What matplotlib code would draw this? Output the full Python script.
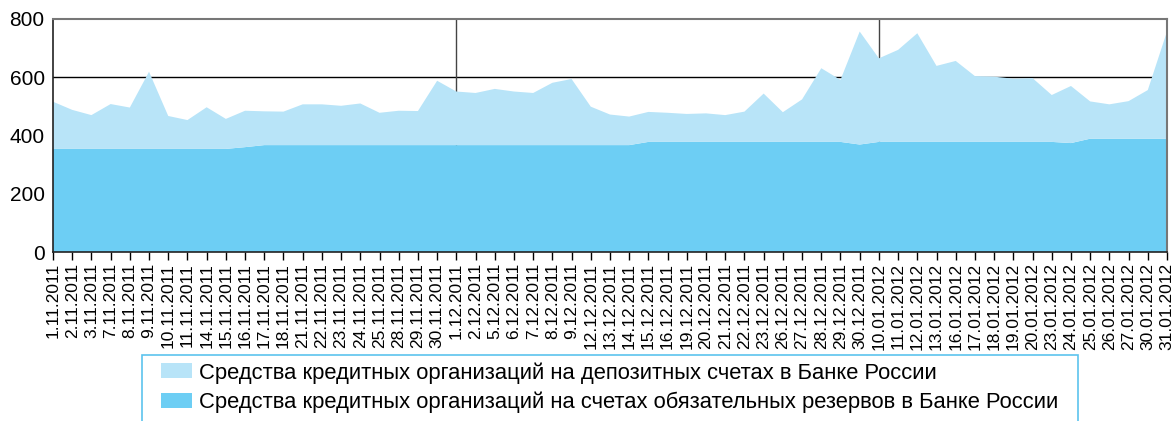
import matplotlib.pyplot as plt
from matplotlib.patches import Rectangle
import numpy as np

plt.rcParams['font.family'] = ['Liberation Sans', 'DejaVu Sans']

dates = ['1.11.2011', '2.11.2011', '3.11.2011', '7.11.2011', '8.11.2011', '9.11.2011',
         '10.11.2011', '11.11.2011', '14.11.2011', '15.11.2011', '16.11.2011', '17.11.2011',
         '18.11.2011', '21.11.2011', '22.11.2011', '23.11.2011', '24.11.2011', '25.11.2011',
         '28.11.2011', '29.11.2011', '30.11.2011',
         '1.12.2011', '2.12.2011', '5.12.2011', '6.12.2011', '7.12.2011', '8.12.2011',
         '9.12.2011', '12.12.2011', '13.12.2011', '14.12.2011', '15.12.2011', '16.12.2011',
         '19.12.2011', '20.12.2011', '21.12.2011', '22.12.2011', '23.12.2011', '26.12.2011',
         '27.12.2011', '28.12.2011', '29.12.2011', '30.12.2011',
         '10.01.2012', '11.01.2012', '12.01.2012', '13.01.2012', '16.01.2012', '17.01.2012',
         '18.01.2012', '19.01.2012', '20.01.2012', '23.01.2012', '24.01.2012', '25.01.2012',
         '26.01.2012', '27.01.2012', '30.01.2012', '31.01.2012']

# обязательные резервы
reserves = [354, 354, 354, 354, 354, 354, 354, 354, 354, 354, 360, 367, 367, 367, 367, 367,
            367, 367, 367, 367, 367,
            367, 367, 367, 367, 367, 367, 367, 367, 367, 367, 378, 378, 378, 378, 378, 378,
            378, 378, 378, 378, 378, 369,
            378, 378, 378, 378, 378, 378, 378, 378, 378, 378, 374, 389, 389, 389, 389, 389]

# депозиты (сверх резервов)
deposits = [162, 134, 116, 154, 142, 265, 113, 99, 143, 103, 125, 116, 115, 140, 140, 135,
            143, 111, 118, 117, 221,
            184, 179, 193, 184, 179, 214, 227, 132, 105, 98, 103, 100, 96, 98, 92, 104,
            166, 102, 146, 253, 213, 388,
            287, 316, 373, 261, 278, 226, 224, 217, 219, 161, 196, 128, 118, 129, 167, 368]

labels = ['Средства кредитных организаций на депозитных счетах в Банке России',
          'Средства кредитных организаций на счетах обязательных резервов в Банке России']

light = '#b8e4f8'
dark = '#6dcef4'

x = np.arange(len(dates))

fig = plt.figure(figsize=(11.76, 4.21), dpi=100)
ax = fig.add_axes([53 / 1176, 1 - 252 / 421, 1114 / 1176, 233 / 421])

ax.axhline(600, color='black', lw=1, zorder=0)
ax.axvline(dates.index('1.12.2011'), color='#444444', lw=1, zorder=0)
ax.axvline(dates.index('10.01.2012'), color='#444444', lw=1, zorder=0)

ax.stackplot(x, reserves, deposits, colors=[dark, light], labels=labels[::-1], zorder=1)

ax.set_xlim(0, len(dates) - 1)
ax.set_ylim(0, 800)
ax.set_yticks([0, 200, 400, 600, 800])
ax.tick_params(axis='y', length=0, labelsize=15, pad=6)
ax.set_xticks(x)
ax.set_xticklabels(dates, rotation=90, fontsize=12.5)
ax.tick_params(axis='x', length=6, width=1, pad=2)

for s in ['top', 'right']:
    ax.spines[s].set_color('#777777')
    ax.spines[s].set_linewidth(1.5)
for s in ['left', 'bottom']:
    ax.spines[s].set_color('#222222')
    ax.spines[s].set_linewidth(1.2)

# рамка легенды
fig.patches.append(Rectangle((142 / 1176, -0.1), 936 / 1176, 0.1 + 1 - 355 / 421,
                             transform=fig.transFigure, fill=False,
                             edgecolor='#5cc3ee', lw=1.2, clip_on=False))

h, l = ax.get_legend_handles_labels()
fig.legend(h[::-1], l[::-1], loc='upper left', bbox_to_anchor=(161 / 1176, 1 - 362 / 421),
           frameon=False, fontsize=15.8, handlelength=1.42, handleheight=0.68,
           handletextpad=0.32, labelspacing=0.36, borderpad=0, borderaxespad=0)

plt.savefig('out.png', dpi=100)
